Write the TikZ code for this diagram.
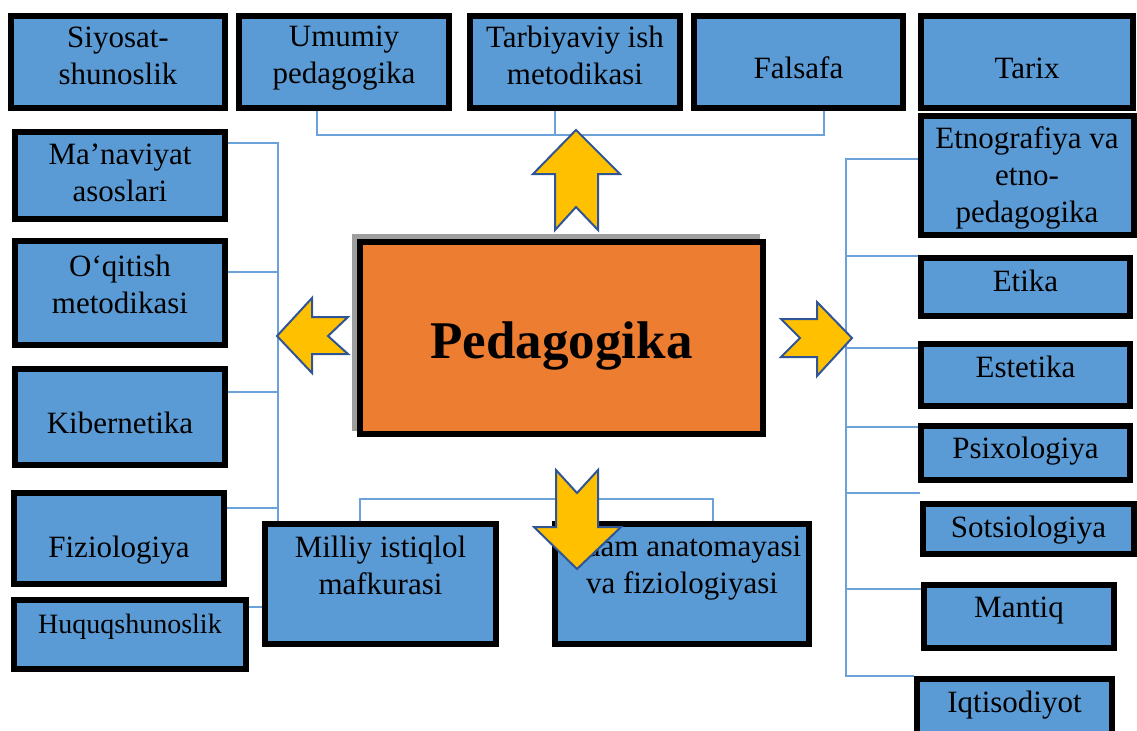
\documentclass[tikz,border=0pt]{standalone}
\usepackage{fontspec}
\setmainfont{Liberation Serif}
\usepackage{xcolor}

\begin{document}
\begin{tikzpicture}[x=0.5pt,y=-0.5pt]
\definecolor{cbox}{rgb}{0.357,0.608,0.835}
\definecolor{cdbox}{rgb}{0.0,0.0,0.0}
\definecolor{cmain}{rgb}{0.929,0.490,0.192}
\definecolor{cshadow}{rgb}{0.62,0.62,0.62}
\definecolor{carrow}{rgb}{1.0,0.753,0.0}
\definecolor{cdarrow}{rgb}{0.184,0.333,0.592}
\definecolor{clink}{rgb}{0.420,0.635,0.855}
\tikzset{
  box/.style={draw=cdbox,fill=cbox,line width=3pt,inner sep=0pt,shape=rectangle},
  txt/.style={align=center,inner sep=0pt,font=\fontsize{15.5}{18.5}\selectfont},
  link/.style={draw=clink,line width=0.7pt},
  blockarrow/.style={fill=carrow,draw=cdarrow,line width=1pt,line join=miter},
}
\useasboundingbox (0,0) rectangle (1137,730);
\coordinate (lbus) at (278,0);
\coordinate (rbus) at (846,0);
%
\node[draw=cshadow,line width=2.5pt,inner sep=0pt,minimum width=201.5pt,minimum height=96pt] (pedshadow) at (556,332.5) {};
\node[box,fill=cmain,minimum width=201.5pt,minimum height=96pt] (pedagogika) at (561.5,338) {};
%
\node[box,minimum width=107pt,minimum height=46pt] (siyosat) at (118,62) {};
\node[box,minimum width=105pt,minimum height=46pt] (umumiy) at (344,62) {};
\node[box,minimum width=105pt,minimum height=46pt] (tarbiya) at (575,62) {};
\node[box,minimum width=104.5pt,minimum height=46pt] (falsafa) at (798.5,62) {};
\node[box,minimum width=106pt,minimum height=46pt] (tarix) at (1027,62) {};
\node[box,minimum width=105pt,minimum height=43.5pt] (manaviyat) at (120,175.5) {};
\node[box,minimum width=105pt,minimum height=52pt] (oqitish) at (120,293) {};
\node[box,minimum width=105pt,minimum height=48pt] (kibernetika) at (120,417) {};
\node[box,minimum width=105pt,minimum height=45.5pt] (fiziologiya) at (119,538.5) {};
\node[box,minimum width=116pt,minimum height=34.5pt] (huquq) at (130,634.5) {};
\node[box,minimum width=115.5pt,minimum height=60pt] (milliy) at (380.5,584) {};
\node[box,minimum width=127pt,minimum height=60pt] (odam) at (682,584) {};
\node[box,minimum width=106.5pt,minimum height=59.5pt] (etnografiya) at (1027,175.5) {};
\node[box,minimum width=104.5pt,minimum height=29pt] (etika) at (1025.5,287) {};
\node[box,minimum width=104.5pt,minimum height=31pt] (estetika) at (1025.5,375) {};
\node[box,minimum width=104.5pt,minimum height=27pt] (psixologiya) at (1025.5,453) {};
\node[box,minimum width=105.5pt,minimum height=25pt] (sotsiologiya) at (1028.5,529) {};
\node[box,minimum width=95pt,minimum height=31.5pt] (mantiq) at (1019,616.5) {};
\node[box,minimum width=97.5pt,minimum height=28pt] (iqtisodiyot) at (1014.5,707) {};
%
\node[txt,anchor=base,font=\fontsize{26.5}{30}\selectfont\bfseries] (t-pedagogika) at (561.5,358) {Pedagogika};
\node[txt] (t-siyosat) at (118,56) {Siyosat-\\shunoslik};
\node[txt] (t-umumiy) at (344,58.5) {Umumiy\\pedagogika};
\node[txt] (t-tarbiya) at (575,55.5) {Tarbiyaviy ish\\metodikasi};
\node[txt,anchor=base] (t-falsafa) at (798.5,78) {Falsafa};
\node[txt,anchor=base] (t-tarix) at (1027,78) {Tarix};
\node[txt] (t-manaviyat) at (120,172.5) {Ma’naviyat\\asoslari};
\node[txt] (t-oqitish) at (120,284) {O‘qitish\\metodikasi};
\node[txt,anchor=base] (t-kibernetika) at (120,433) {Kibernetika};
\node[txt,anchor=base] (t-fiziologiya) at (119,557) {Fiziologiya};
\node[txt,anchor=base,font=\fontsize{14}{17}\selectfont] (t-huquq) at (130,633) {Huquqshunoslik};
\node[txt] (t-milliy) at (380.5,565) {Milliy istiqlol\\mafkurasi};
\node[txt] (t-odam) at (682,568) {Odam anatomayasi\\va fiziologiyasi};
\node[txt] (t-etnografiya) at (1027,178) {Etnografiya va\\etno-\\pedagogika};
\node[txt,anchor=base] (t-etika) at (1025.5,291) {Etika};
\node[txt,anchor=base] (t-estetika) at (1025.5,377) {Estetika};
\node[txt,anchor=base] (t-psixologiya) at (1025.5,458) {Psixologiya};
\node[txt,anchor=base] (t-sotsiologiya) at (1028.5,537) {Sotsiologiya};
\node[txt,anchor=base] (t-mantiq) at (1019,617) {Mantiq};
\node[txt,anchor=base] (t-iqtisodiyot) at (1014.5,712) {Iqtisodiyot};
%
% top
\draw[link] (umumiy.south -| 317,0) |- (824,135) -- (falsafa.south -| 824,0);
\draw[link] (tarbiya.south -| 555,0) -- (555,135);
% left
\draw[link] (manaviyat.east |- 0,143) -| (milliy.north -| lbus);
\draw[link] (oqitish.east |- 0,272) -- (lbus |- 0,272);
\draw[link] (kibernetika.east |- 0,392) -- (lbus |- 0,392);
\draw[link] (fiziologiya.east |- 0,508) -- (lbus |- 0,508);
\draw[link] (huquq.east |- 0,607) -- (milliy.west |- 0,607);
% bottom
\draw[link] (milliy.north -| 360,0) |- (713,499) -- (odam.north -| 713,0);
% right
\draw[link] (etnografiya.west |- 0,159) -| (rbus |- iqtisodiyot.north) -- (iqtisodiyot.north west);
\draw[link] (etika.west |- 0,256) -- (rbus |- 0,256);
\draw[link] (estetika.west |- 0,348) -- (rbus |- 0,348);
\draw[link] (psixologiya.west |- 0,427) -- (rbus |- 0,427);
\draw[link] (sotsiologiya.west |- 0,493) -- (rbus |- 0,493);
\draw[link] (mantiq.west |- 0,589) -- (rbus |- 0,589);
%
\draw[blockarrow] (576,130) -- (620,174) -- (598,174) -- (598,230) -- (576,207) -- (555,230) -- (555,174) -- (533,174) -- cycle;
\draw[blockarrow] (277,336) -- (312,298) -- (312,317) -- (348,317) -- (328,336) -- (348,354) -- (312,354) -- (312,373) -- cycle;
\draw[blockarrow] (781,319) -- (817,319) -- (817,302) -- (852,338) -- (817,376) -- (817,357) -- (781,357) -- (800,338) -- cycle;
\draw[blockarrow] (556,470) -- (577,493) -- (598,470) -- (598,527) -- (621,527) -- (577,569) -- (534,527) -- (556,527) -- cycle;
%
\end{tikzpicture}
\end{document}
